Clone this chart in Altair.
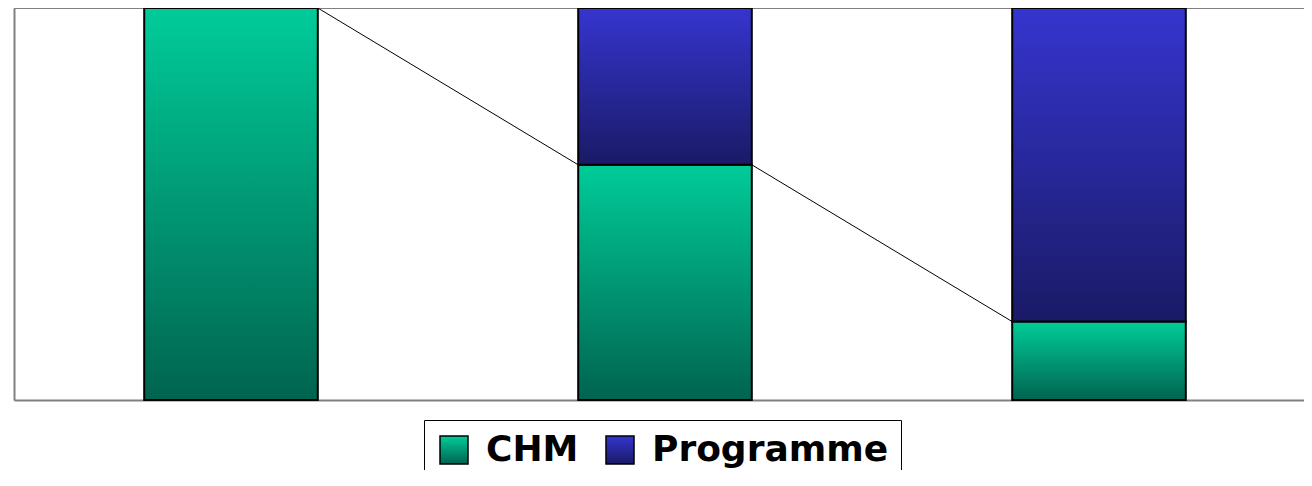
import altair as alt
import pandas as pd

# ---- data ----
bar_index = [0, 1, 2]
series = ["CHM", "Programme"]
chm = [100, 60, 20]
programme = [0, 40, 80]

HALF = 0.2  # half bar width, in band units (gap width 150%)

rows = []
for i, c, p in zip(bar_index, chm, programme):
    base = 0
    for name, v in zip(series, [c, p]):
        if v > 0:
            rows.append({"x0": i - HALF, "x1": i + HALF, "y0": base, "y1": base + v, "series": name})
        base += v
bar_df = pd.DataFrame(rows)

line_rows = []
for i in range(len(bar_index) - 1):
    line_rows.append({"lx": bar_index[i] + HALF, "lx2": bar_index[i + 1] - HALF,
                      "ly": chm[i], "ly2": chm[i + 1]})
line_df = pd.DataFrame(line_rows)

top_df = pd.DataFrame({"top": [100]})

W, H = 1290, 392
xscale = alt.Scale(domain=[-0.5, -0.5 + W / 434], nice=False, zero=False)
yscale = alt.Scale(domain=[0, 100], nice=False, zero=False)
frame_axis = alt.Axis(labels=False, ticks=False, grid=False, title=None,
                      domainColor="#808080", domainWidth=2)

green = ("{gradient: 'linear', x1: 0, y1: 0, x2: 0, y2: 1, stops: ["
         "{offset: 0, color: '#00CC99'}, {offset: 1, color: '#006450'}]}")
blue = ("{gradient: 'linear', x1: 0, y1: 0, x2: 0, y2: 1, stops: ["
        "{offset: 0, color: '#3535CF'}, {offset: 1, color: '#1A1A66'}]}")

top_rule = alt.Chart(top_df).mark_rule(color="#808080", strokeWidth=2).encode(
    y=alt.Y("top:Q", scale=yscale, axis=frame_axis)
)

series_lines = alt.Chart(line_df).mark_rule(color="black", strokeWidth=1).encode(
    x=alt.X("lx:Q", scale=xscale, axis=frame_axis),
    x2="lx2:Q",
    y=alt.Y("ly:Q", scale=yscale, axis=frame_axis),
    y2="ly2:Q",
)

bars = alt.Chart(bar_df).mark_bar(stroke="black", strokeWidth=2).encode(
    x=alt.X("x0:Q", scale=xscale, axis=frame_axis),
    x2="x1:Q",
    y=alt.Y("y0:Q", scale=yscale, axis=frame_axis),
    y2="y1:Q",
    color=alt.Color(
        "series:N",
        scale=alt.Scale(domain=series, range=[{"expr": green}, {"expr": blue}]),
        legend=alt.Legend(
            title=None, orient="none", legendX=410, legendY=412,
            direction="horizontal",
            strokeColor="black", fillColor="white", padding=12,
            symbolType="square", symbolSize=784,
            symbolStrokeColor="black", symbolStrokeWidth=1.5,
            labelFont="DejaVu Sans", labelFontSize=36, labelFontWeight="bold",
            labelColor="black", labelLimit=400, labelOffset=14, columnPadding=23,
        ),
    ),
)

chart = alt.layer(top_rule, series_lines, bars).properties(
    width=W, height=H,
    autosize=alt.AutoSizeParams(type="none"),
    padding={"left": 6, "top": 0, "right": 0, "bottom": 70},
).configure_view(stroke=None).configure(background="white")

chart.save("out.html", embed_options={"renderer": "svg", "actions": False})
